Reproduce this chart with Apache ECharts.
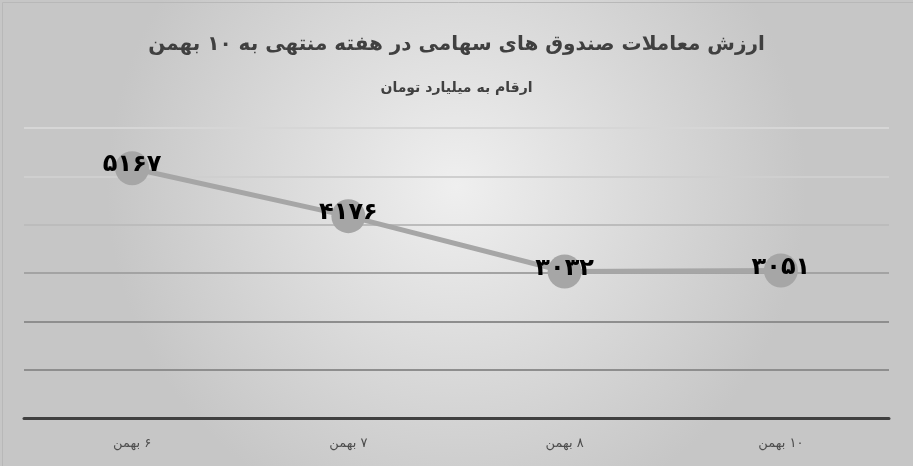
<!DOCTYPE html>
<html>
<head>
<meta charset="utf-8">
<script src="https://cdn.jsdelivr.net/npm/echarts@6/dist/echarts.min.js"></script>
<style>
html,body{margin:0;padding:0;}
#c{width:913px;height:466px;}
</style>
</head>
<body>
<div id="c"></div>
<script>
const titleText = 'ارزش معاملات صندوق های سهامی در هفته منتهی به ۱۰ بهمن';
const subtitleText = 'ارقام به میلیارد تومان';
const categories = ['۶ بهمن', '۷ بهمن', '۸ بهمن', '۱۰ بهمن'];
const values = [5167, 4176, 3032, 3051];
const yMin = 0, yMax = 6000, yInterval = 1000;

function toFa(n){
  const d = '۰۱۲۳۴۵۶۷۸۹';
  return String(n).replace(/[0-9]/g, c => d[+c]);
}

const chart = echarts.init(document.getElementById('c'));
chart.setOption({
  backgroundColor: {
    type: 'radial', x: 0.5, y: 0.4, r: 0.75,
    colorStops: [{offset: 0, color: '#efefef'}, {offset: 1, color: '#c6c6c6'}]
  },
  graphic: [{
    type: 'rect', left: 0, top: 0,
    shape: {x: 0.5, y: 0.5, width: 912, height: 465},
    style: {fill: 'none', stroke: '#b8b8b8', lineWidth: 1}
  }],
  title: {
    text: '\u200F' + titleText,
    subtext: '\u200F' + subtitleText,
    left: 'center',
    top: 30,
    itemGap: 26,
    textStyle: {fontFamily: 'DejaVu Sans', fontSize: 20, fontWeight: 'bold', color: '#404040'},
    subtextStyle: {fontFamily: 'DejaVu Sans', fontSize: 14, fontWeight: 'bold', color: '#404040'}
  },
  grid: {left: 24, right: 24, top: 128, bottom: 48},
  xAxis: {
    type: 'category',
    data: categories,
    boundaryGap: true,
    axisLine: {lineStyle: {color: '#404040', width: 3}},
    axisTick: {show: false},
    axisLabel: {color: '#4d4d4d', fontSize: 13, fontFamily: 'DejaVu Sans', margin: 19,
      formatter: v => '\u200F' + v}
  },
  yAxis: {
    type: 'value',
    min: yMin, max: yMax, interval: yInterval,
    axisLabel: {show: false},
    axisLine: {show: false},
    axisTick: {show: false},
    splitLine: {lineStyle: {width: 2, color: ['#8c8c8c', '#8e8e8e', '#8e8e8e', '#a3a3a3', '#bcbcbc', '#cfcfcf', '#d6d6d6']}}
  },
  series: [{
    type: 'line',
    data: values,
    symbol: 'circle',
    symbolSize: 34,
    itemStyle: {color: '#a6a6a6'},
    lineStyle: {color: '#a6a6a6', width: 5},
    label: {
      show: true,
      position: 'inside',
      offset: [0, -3],
      formatter: p => toFa(p.value),
      color: '#000000',
      fontSize: 24,
      fontWeight: 'bold',
      fontFamily: 'DejaVu Sans'
    },
    animation: false
  }],
  animation: false
});
</script>
</body>
</html>
